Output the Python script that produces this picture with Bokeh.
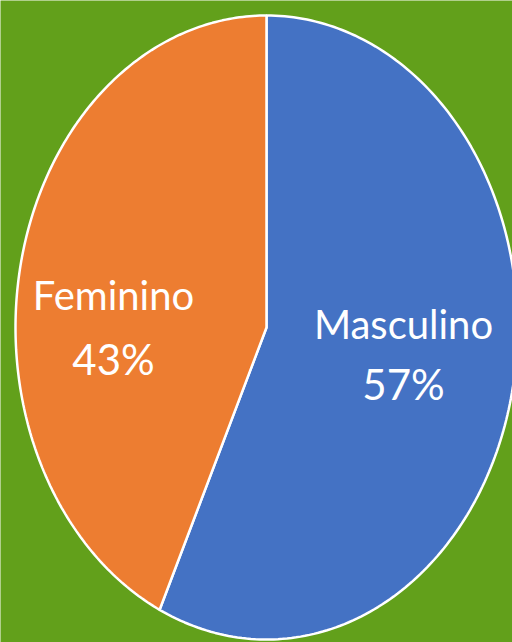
import numpy as np
from bokeh.plotting import figure
from bokeh.models import Range1d, ColumnDataSource
from bokeh.core.properties import value
from bokeh.embed import file_html
from bokeh.resources import INLINE

# ---- data ----
categories = ["Masculino", "Feminino"]
shares = [57, 43]
colors = ["#4472C4", "#ED7D31"]
pct_labels = ["57%", "43%"]

# ---- layout constants (pixels) ----
W, H = 512, 642
CX, CY = 266, 327   # pie centre in px
RX, RY = 251, 312   # ellipse radii in px

p = figure(width=W, height=H, output_backend="svg", toolbar_location=None,
           x_range=Range1d(-CX / RX, (W - CX) / RX),
           y_range=Range1d(-(H - CY) / RY, CY / RY),
           min_border=0, match_aspect=False)
p.axis.visible = False
p.grid.visible = False
p.outline_line_color = None
p.background_fill_color = "#62a01b"
p.border_fill_color = "#62a01b"

# wedges: clockwise from top, unit circle in data space
total = float(sum(shares))
start = 0.0
xs, ys = [], []
for s in shares:
    end = start + s / total * 2 * np.pi
    t = np.linspace(start, end, 200)
    xs.append(np.concatenate([[0.0], np.sin(t), [0.0]]))
    ys.append(np.concatenate([[0.0], np.cos(t), [0.0]]))
    start = end

src = ColumnDataSource(dict(xs=xs, ys=ys, color=colors, cat=categories))
p.patches("xs", "ys", source=src, fill_color="color", line_color="white",
          line_width=2.5)

# labels
def dx(px):
    return (px - CX) / RX

def dy(py):
    return (CY - py) / RY

lab = ColumnDataSource(dict(
    x=[dx(403), dx(113)],
    y1=[dy(323), dy(294)],
    y2=[dy(383), dy(358)],
    name=categories,
    pct=pct_labels,
))
font = value("Lato")
p.text("x", "y1", text="name", source=lab, text_color="white",
       text_font=font, text_font_size="40px", text_align="center",
       text_baseline="alphabetic")
p.text("x", "y2", text="pct", source=lab, text_color="white",
       text_font=font, text_font_size="42px", text_align="center",
       text_baseline="alphabetic")

open("out.html", "w").write(file_html(p, INLINE))
